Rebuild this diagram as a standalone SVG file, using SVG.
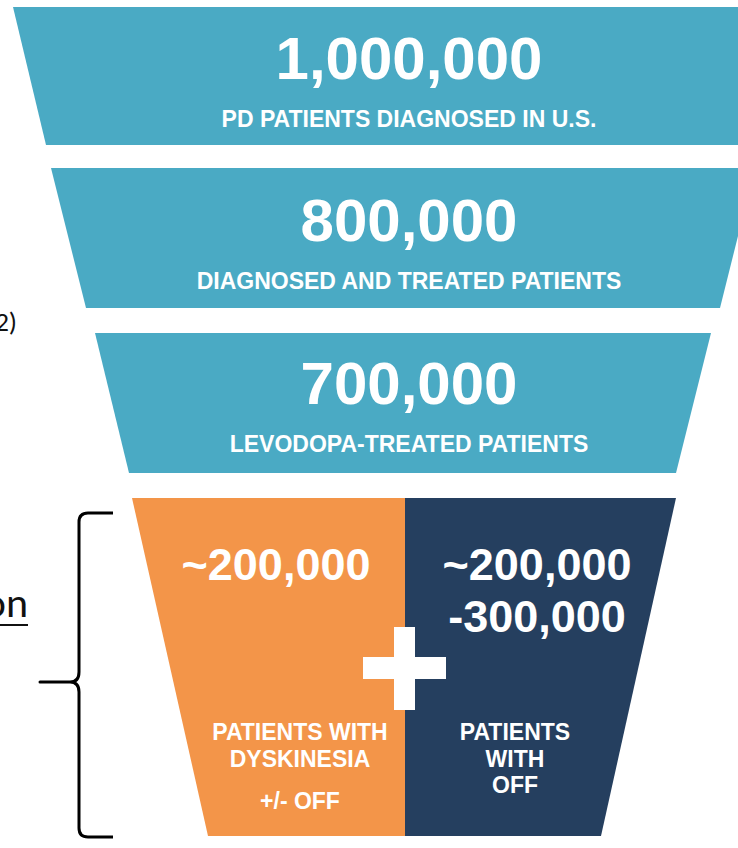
<svg xmlns="http://www.w3.org/2000/svg" width="738" height="848" viewBox="0 0 738 848">
  <style>
    .teal { fill: #4aaac4; }
    .orange { fill: #f39549; }
    .navy { fill: #253f5f; }
    .big { font-family: "Liberation Sans", Arial, sans-serif; font-weight: bold; font-size: 60px; fill: #ffffff; text-anchor: middle; }
    .mid { font-family: "Liberation Sans", Arial, sans-serif; font-weight: bold; font-size: 45px; fill: #ffffff; text-anchor: middle; }
    .sub { font-family: "Liberation Sans", Arial, sans-serif; font-weight: bold; font-size: 23px; fill: #ffffff; text-anchor: middle; }
    .side { font-family: "Carlito", "Liberation Sans", sans-serif; fill: #111111; }
  </style>
  <rect width="738" height="848" fill="#ffffff"/>

  <!-- side labels, running in from the left edge -->
  <text class="side" x="17" y="331" font-size="27" text-anchor="end">2)</text>
  <text class="side" x="28" y="617" font-size="42" text-anchor="end">on</text>
  <line x1="-5" y1="625" x2="28" y2="625" stroke="#111111" stroke-width="2"/>

  <g id="tier-diagnosed">
    <polygon class="teal" points="13,7 775,7 742,145 46,145"/>
    <text class="big" x="409" y="79">1,000,000</text>
    <text class="sub" x="409" y="127">PD PATIENTS DIAGNOSED IN U.S.</text>
  </g>

  <g id="tier-treated">
    <polygon class="teal" points="51,168 755,168 720,308 86,308"/>
    <text class="big" x="409" y="241">800,000</text>
    <text class="sub" x="409" y="289">DIAGNOSED AND TREATED PATIENTS</text>
  </g>

  <g id="tier-levodopa">
    <polygon class="teal" points="95,333 711,333 676,473 129,473"/>
    <text class="big" x="409" y="404">700,000</text>
    <text class="sub" x="409" y="452">LEVODOPA-TREATED PATIENTS</text>
  </g>

  <g id="tier-dyskinesia">
    <polygon class="orange" points="132,498 405,498 405,836 208,836"/>
    <text class="mid" x="276" y="580">~200,000</text>
    <text class="sub" x="300" y="740">PATIENTS WITH</text>
    <text class="sub" x="300" y="767">DYSKINESIA</text>
    <text class="sub" x="300" y="809">+/- OFF</text>
  </g>

  <g id="tier-off">
    <polygon class="navy" points="405,498 676,498 601,836 405,836"/>
    <text class="mid" x="537" y="580">~200,000</text>
    <text class="mid" x="537" y="632">-300,000</text>
    <text class="sub" x="515" y="740">PATIENTS</text>
    <text class="sub" x="515" y="767">WITH</text>
    <text class="sub" x="515" y="793">OFF</text>
  </g>

  <g id="plus">
    <rect x="363" y="657" width="83" height="22" fill="#ffffff"/>
    <rect x="394" y="627" width="21" height="83" fill="#ffffff"/>
  </g>

  <g id="connectors">
    <!-- curly brace grouping the bottom tier -->
    <path d="M113,513 L88,513 Q79,513 79,522 L79,672 Q79,682 70,682 L40,682 L70,682 Q79,682 79,692 L79,828 Q79,837 88,837 L113,837"
          fill="none" stroke="#000000" stroke-width="3" stroke-linejoin="round"/>
  </g>
</svg>
